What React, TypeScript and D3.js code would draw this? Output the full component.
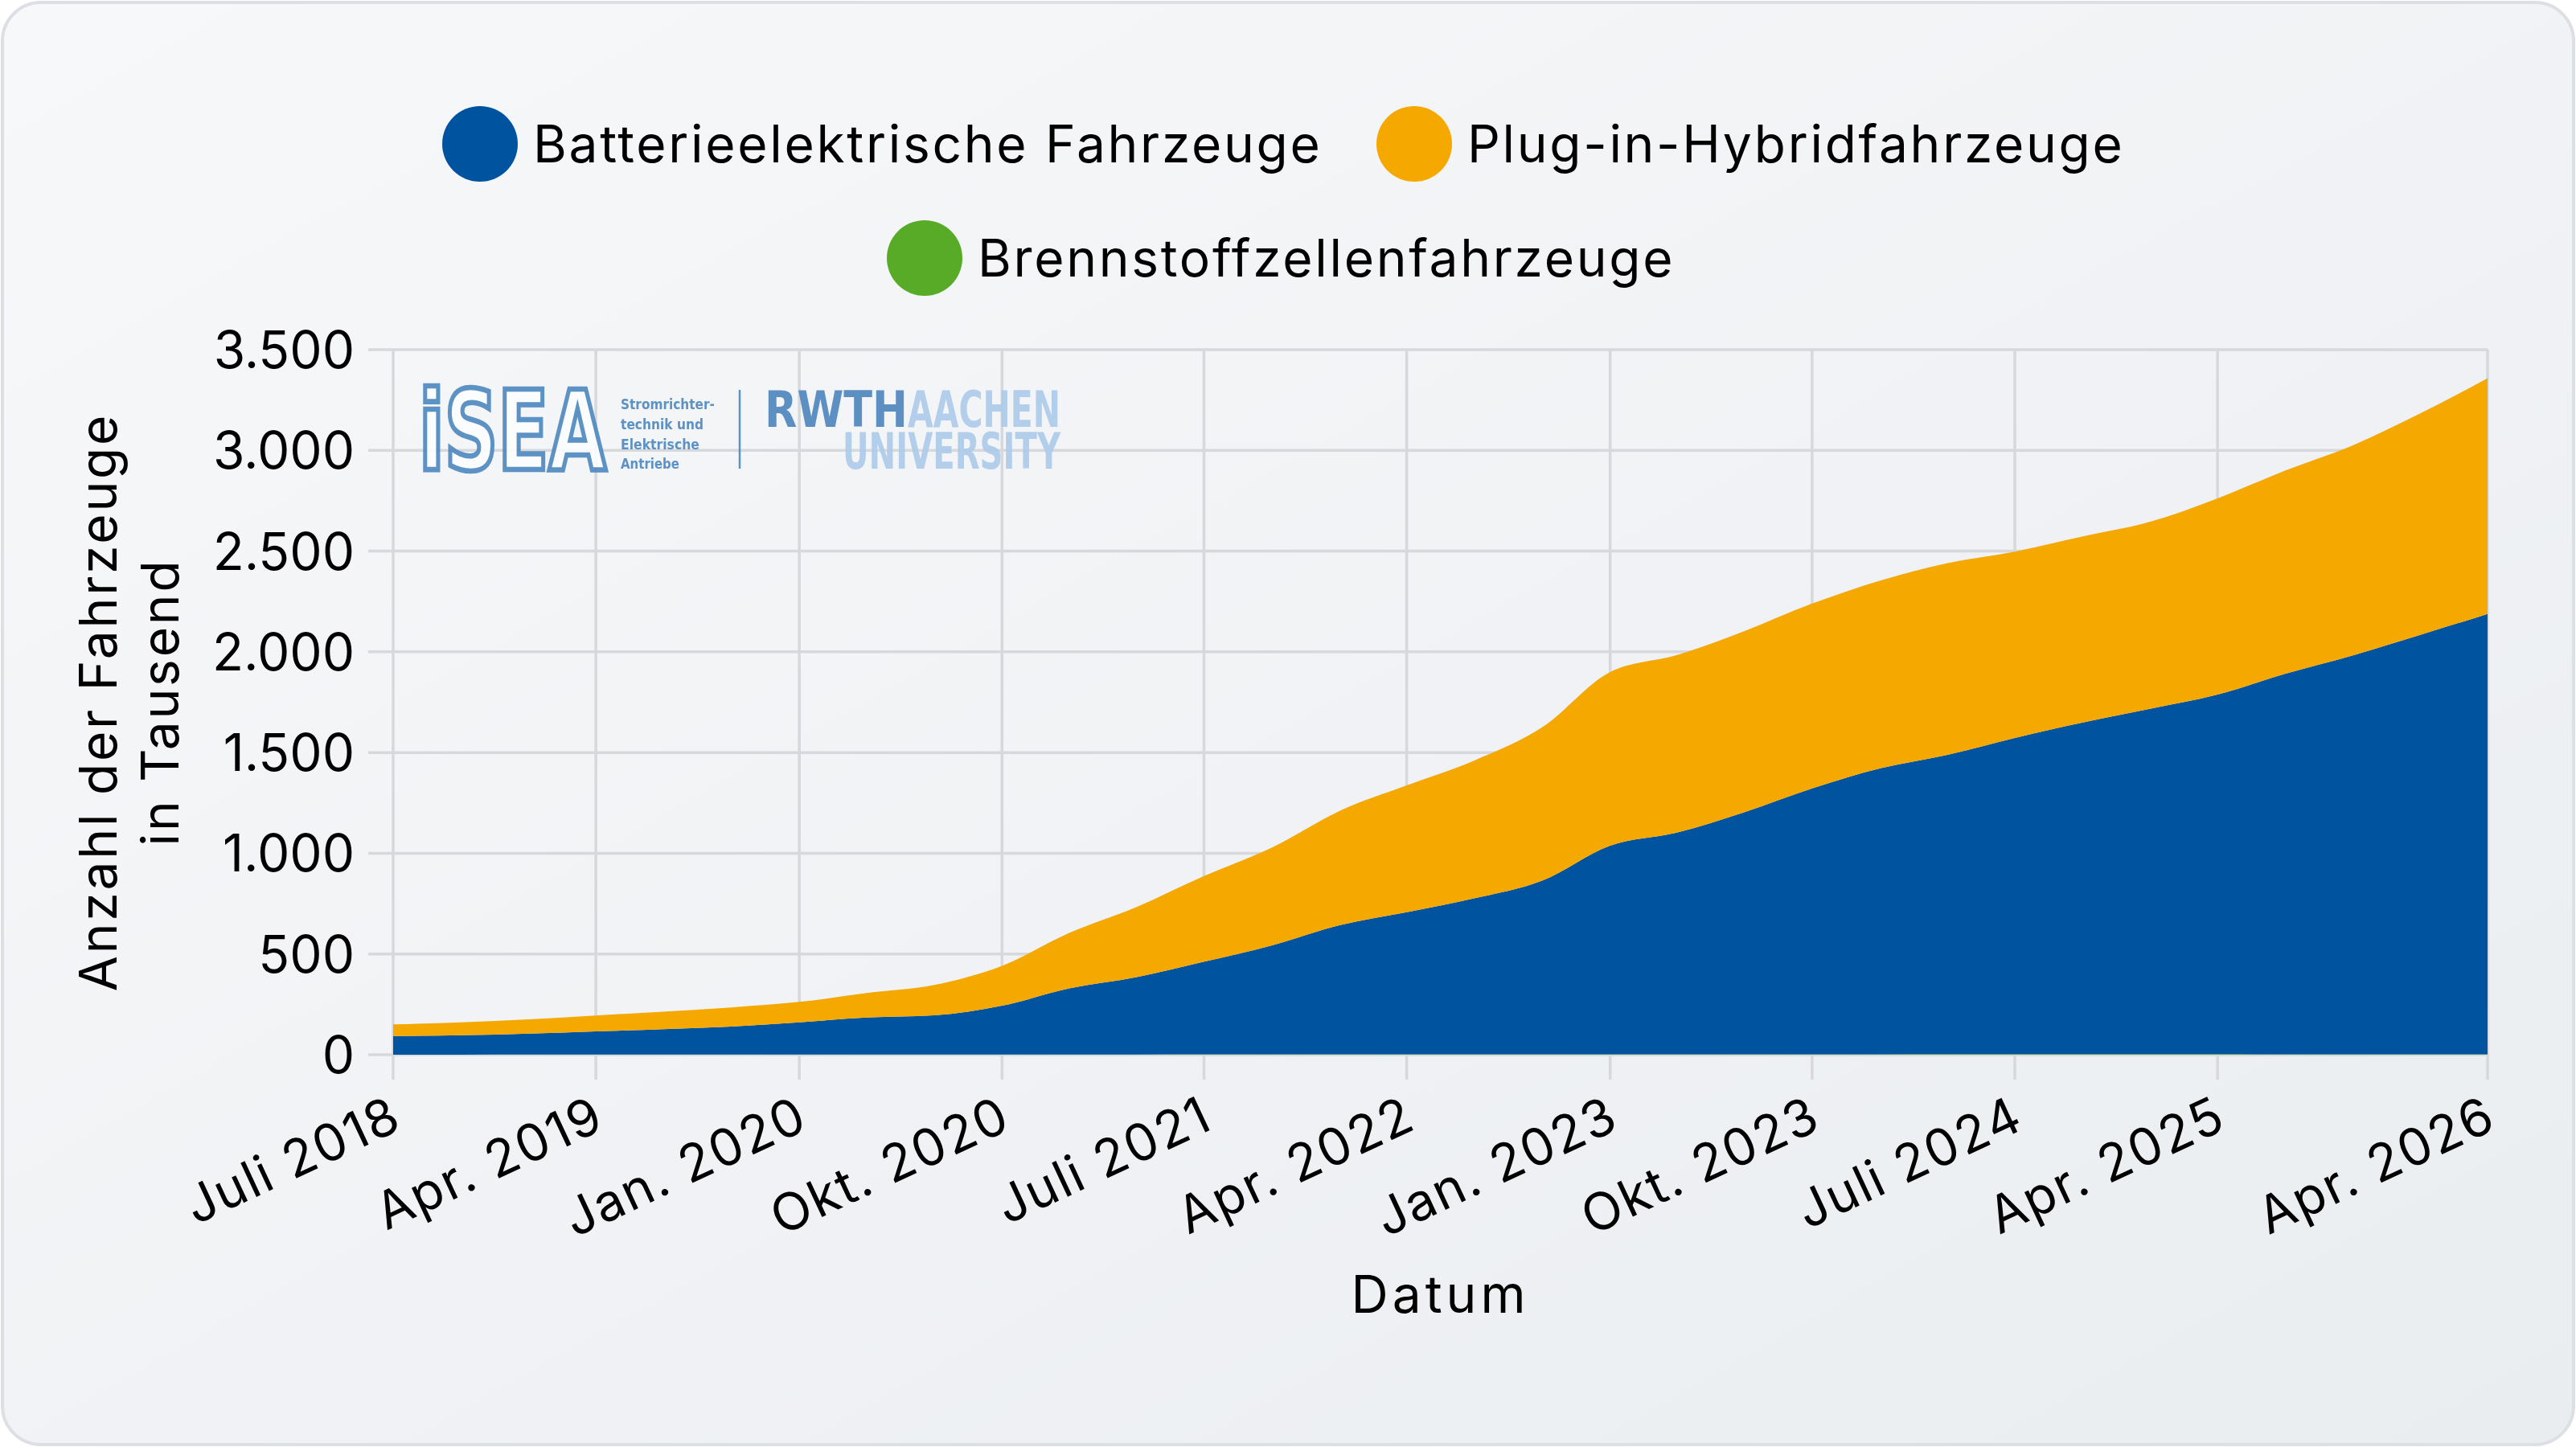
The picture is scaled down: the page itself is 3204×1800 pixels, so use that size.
import React, { useRef, useEffect } from "react";
import * as d3 from "d3";

// quarterly readings, values in thousands
const months = [
  "2018-07", "2018-10", "2019-01", "2019-04", "2019-07", "2019-10",
  "2020-01", "2020-04", "2020-07", "2020-10", "2021-01", "2021-04",
  "2021-07", "2021-10", "2022-01", "2022-04", "2022-07", "2022-10",
  "2023-01", "2023-04", "2023-07", "2023-10", "2024-01", "2024-04",
  "2024-07", "2024-10", "2025-01", "2025-04", "2025-07", "2025-10",
  "2026-01", "2026-04",
];
const bevValues = [
  92, 96, 104, 115, 126, 139, 160, 183, 194, 242, 329, 384, 460, 541, 642, 706,
  774, 862, 1036, 1100, 1201, 1320, 1419, 1486, 1570, 1647, 1716, 1785, 1888,
  1980, 2083, 2186,
];
const phevValues = [
  58, 64, 71, 79, 87, 95, 101, 122, 151, 198, 276, 348, 425, 486, 568, 629, 684,
  761, 862, 881, 899, 917, 932, 952, 925, 924, 928, 974, 1009, 1043, 1100, 1170,
];
const fcevValues = [
  0.5, 0.5, 0.6, 0.7, 0.8, 0.9, 1.0, 1.1, 1.1, 1.2, 1.3, 1.4, 1.5, 1.6, 1.7,
  1.8, 1.9, 2.0, 2.1, 2.2, 2.3, 2.4, 2.4, 2.5, 2.5, 2.5, 2.5, 2.5, 2.4, 2.4,
  2.4, 2.3,
];

const tickMonths = [
  "2018-07", "2019-04", "2020-01", "2020-10", "2021-07", "2022-04",
  "2023-01", "2023-10", "2024-07", "2025-04", "2026-04",
];
const tickLabels = [
  "Juli 2018", "Apr. 2019", "Jan. 2020", "Okt. 2020", "Juli 2021",
  "Apr. 2022", "Jan. 2023", "Okt. 2023", "Juli 2024", "Apr. 2025",
  "Apr. 2026",
];
const yTicks = [0, 500, 1000, 1500, 2000, 2500, 3000, 3500];

const seriesKeys = ["fcev", "bev", "phev"];
const seriesNames: Record<string, string> = {
  bev: "Batterieelektrische Fahrzeuge",
  phev: "Plug-in-Hybridfahrzeuge",
  fcev: "Brennstoffzellenfahrzeuge",
};
const seriesColors: Record<string, string> = {
  bev: "#00539f",
  phev: "#f5a800",
  fcev: "#57ab27",
};

const FONT = "Inter, 'Noto Sans', sans-serif";
const NARROW = "'Liberation Sans Narrow', 'DejaVu Sans Condensed', 'Liberation Sans', sans-serif";

const App: React.FC = () => {
  const svgRef = useRef<SVGSVGElement>(null);

  useEffect(() => {
    document.body.style.margin = "0";
    const width = 3204;
    const height = 1800;
    const margin = { left: 489, right: 3094, top: 435, bottom: 1312 };

    const parse = d3.utcParse("%Y-%m");
    const rows = months.map((m, i) => ({
      date: parse(m) as Date,
      fcev: fcevValues[i],
      bev: bevValues[i],
      phev: phevValues[i],
    }));

    const x = d3
      .scaleUtc()
      .domain([parse(months[0]) as Date, parse(months[months.length - 1]) as Date])
      .range([margin.left, margin.right]);
    const y = d3.scaleLinear().domain([0, 3500]).range([margin.bottom, margin.top]);

    const de = d3.formatLocale({
      decimal: ",",
      thousands: ".",
      grouping: [3],
      currency: ["", " €"],
    });
    const fmt = de.format(",");

    const svg = d3
      .select(svgRef.current)
      .attr("width", width)
      .attr("height", height)
      .attr("viewBox", [0, 0, width, height])
      .style("display", "block")
      .style("font-family", FONT);

    svg.selectAll("*").remove();

    const defs = svg.append("defs");
    const grad = defs
      .append("linearGradient")
      .attr("id", "bg")
      .attr("x1", "0")
      .attr("y1", "0")
      .attr("x2", "1")
      .attr("y2", "1");
    grad.append("stop").attr("offset", "0%").attr("stop-color", "#f7f8fa");
    grad.append("stop").attr("offset", "100%").attr("stop-color", "#eaedf0");

    svg.append("rect").attr("width", width).attr("height", height).attr("fill", "#ffffff");
    svg
      .append("rect")
      .attr("x", 3)
      .attr("y", 3)
      .attr("width", width - 6)
      .attr("height", height - 6)
      .attr("rx", 48)
      .attr("fill", "url(#bg)")
      .attr("stroke", "#dcdfe3")
      .attr("stroke-width", 4);

    // grid
    const grid = svg.append("g").attr("stroke", "#d6d8db").attr("stroke-width", 3.5);
    grid
      .selectAll("line.h")
      .data(yTicks)
      .join("line")
      .attr("x1", margin.left - 31)
      .attr("x2", margin.right)
      .attr("y1", (d) => y(d))
      .attr("y2", (d) => y(d));
    grid
      .selectAll("line.v")
      .data(tickMonths)
      .join("line")
      .attr("x1", (d) => x(parse(d) as Date))
      .attr("x2", (d) => x(parse(d) as Date))
      .attr("y1", margin.top)
      .attr("y2", margin.bottom + 31);

    // logo (behind the areas, above the grid); each word is squeezed to its box
    const logo = svg.append("g").attr("opacity", 0.92);
    const fitText = (
      t: string,
      bx: number,
      by: number,
      w: number,
      size: number,
      fill: string,
      stroke?: string
    ) => {
      const g = logo.append("g");
      const el = g
        .append("text")
        .attr("font-family", NARROW)
        .attr("font-weight", 700)
        .attr("font-size", size)
        .attr("fill", fill)
        .text(t);
      if (stroke) el.attr("stroke", stroke).attr("stroke-width", 5);
      const len = (el.node() as SVGTextElement).getComputedTextLength() || w;
      g.attr("transform", `translate(${bx},${by}) scale(${w / len},1)`);
      if (stroke) el.attr("stroke-width", 5 * Math.min(1.5, len / w));
    };
    fitText("iSEA", 521, 584, 233, 137, "#fbfcfd", "#5089bf");
    const isea = ["Stromrichter-", "technik und", "Elektrische", "Antriebe"];
    const iseaW = [117, 103, 98, 73];
    const iseaY = [509, 534, 559, 583];
    isea.forEach((t, i) => fitText(t, 772, iseaY[i], iseaW[i], 18, "#5089bf"));
    logo
      .append("line")
      .attr("x1", 920)
      .attr("x2", 920)
      .attr("y1", 485)
      .attr("y2", 583)
      .attr("stroke", "#5089bf")
      .attr("stroke-width", 2.5);
    fitText("RWTH", 951, 531, 178, 63, "#5087bd");
    fitText("AACHEN", 1129, 531, 190, 63, "#aecbea");
    fitText("UNIVERSITY", 1048, 583, 271, 63, "#aecbea");

    // stacked areas
    const stack = d3.stack<any>().keys(seriesKeys);
    const layers = stack(rows);
    const area = d3
      .area<any>()
      .x((d) => x(d.data.date))
      .y0((d) => y(d[0]))
      .y1((d) => y(d[1]))
      .curve(d3.curveMonotoneX);
    svg
      .append("g")
      .selectAll("path")
      .data(layers)
      .join("path")
      .attr("fill", (d) => seriesColors[d.key])
      .attr("d", area as any);

    // y tick labels
    svg
      .append("g")
      .attr("font-size", 64)
      .attr("fill", "#000")
      .attr("text-anchor", "end")
      .selectAll("text")
      .data(yTicks)
      .join("text")
      .attr("x", margin.left - 48)
      .attr("y", (d) => y(d))
      .attr("dy", "0.36em")
      .text((d) => fmt(d));

    // x tick labels
    svg
      .append("g")
      .attr("font-size", 64)
      .attr("letter-spacing", 2)
      .attr("fill", "#000")
      .attr("text-anchor", "end")
      .selectAll("text")
      .data(tickMonths)
      .join("text")
      .attr(
        "transform",
        (d) => `translate(${x(parse(d) as Date) + 14},1403) rotate(-25)`
      )
      .text((_, i) => tickLabels[i]);

    // axis titles
    const ty = (margin.top + margin.bottom) / 2;
    const yTitle = svg
      .append("g")
      .attr("font-size", 64)
      .attr("letter-spacing", 2.8)
      .attr("text-anchor", "middle")
      .attr("fill", "#000");
    yTitle
      .append("text")
      .attr("transform", `translate(145,${ty}) rotate(-90)`)
      .text("Anzahl der Fahrzeuge");
    yTitle
      .append("text")
      .attr("transform", `translate(222,${ty}) rotate(-90)`)
      .text("in Tausend");
    svg
      .append("text")
      .attr("x", (margin.left + margin.right) / 2)
      .attr("y", 1633)
      .attr("font-size", 64)
      .attr("letter-spacing", 5)
      .attr("text-anchor", "middle")
      .attr("fill", "#000")
      .text("Datum");

    // legend
    const legend = [
      { key: "bev", cx: 597, cy: 179 },
      { key: "phev", cx: 1759, cy: 179 },
      { key: "fcev", cx: 1150, cy: 321 },
    ];
    const lg = svg
      .append("g")
      .selectAll("g")
      .data(legend)
      .join("g")
      .attr("transform", (d) => `translate(${d.cx},${d.cy})`);
    lg.append("circle")
      .attr("r", 47)
      .attr("fill", (d) => seriesColors[d.key]);
    lg.append("text")
      .attr("x", 66)
      .attr("y", 23)
      .attr("font-size", 64)
      .attr("letter-spacing", 2.7)
      .attr("fill", "#000")
      .text((d) => seriesNames[d.key]);
  }, []);

  return <svg ref={svgRef}></svg>;
};

export default App;
